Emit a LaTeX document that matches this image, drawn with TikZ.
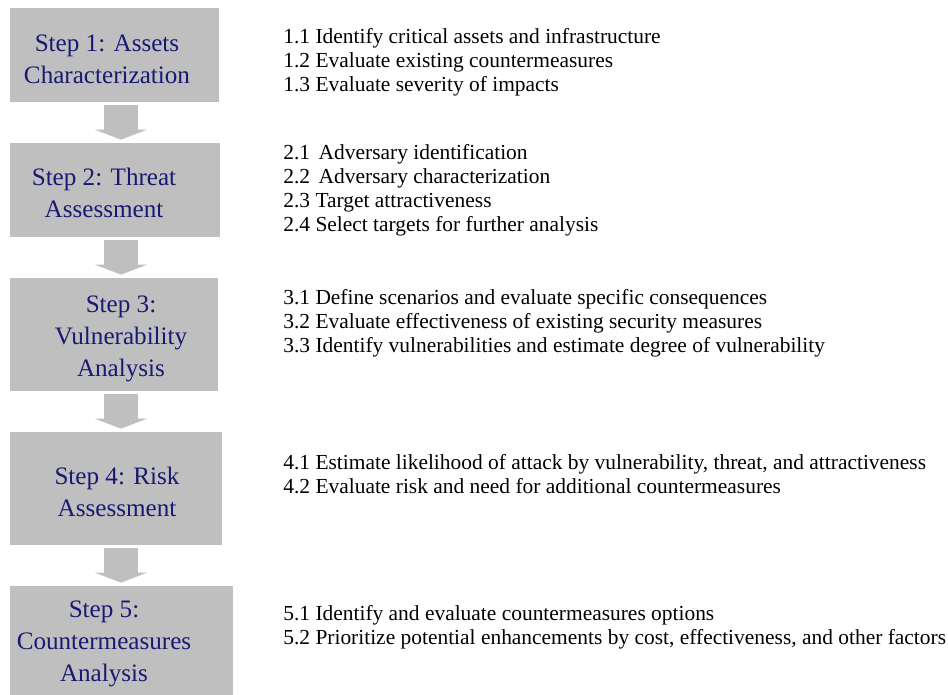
\documentclass[tikz,border=0pt]{standalone}
\usepackage{fontspec}
\setmainfont{Liberation Serif}
\usepackage{tikz}
\usetikzlibrary{arrows.meta}
\definecolor{boxgray}{RGB}{191,191,191}
\definecolor{stepblue}{RGB}{25,25,115}

\begin{document}
\begin{tikzpicture}[x = 0.02cm, y = -0.02cm,
        stepbox/.style = {fill = boxgray, inner sep = 0pt},
        steptext/.style = {text = stepblue, align = center, inner sep = 0pt,
            font = \fontsize{14.3}{18.1}\selectfont},
        tasks/.style = {anchor = west, align = left, inner sep = 0pt,
            font = \fontsize{12.2}{13.6}\selectfont},
        flow/.style = {boxgray, line width = 0.68cm,
            -{Triangle[width = 1.04cm, length = 0.2cm]},
            shorten < = 0.06cm, shorten > = 0.06cm}]
        \useasboundingbox (0, 0) rectangle (948, 695);
        % steps on the left
        \node [stepbox, minimum width = 4.18cm, minimum height = 1.88cm] (s1) at (114.5, 55) {};
        \node [stepbox, minimum width = 4.2cm, minimum height = 1.88cm] (s2) at (115, 190) {};
        \node [stepbox, minimum width = 4.16cm, minimum height = 2.26cm] (s3) at (114, 334.5) {};
        \node [stepbox, minimum width = 4.24cm, minimum height = 2.26cm] (s4) at (116, 488.5) {};
        \node [stepbox, minimum width = 4.46cm, minimum height = 2.18cm] (s5) at (121.5, 640.5) {};
        \node [steptext] (s1 text) at (107, 59) {Step 1: Assets\\Characterization};
        \node [steptext] (s2 text) at (104, 193) {Step 2: Threat\\Assessment};
        \node [steptext] (s3 text) at (121, 339) {Step 3:\\Vulnerability\\Analysis};
        \node [steptext] (s4 text) at (117, 492) {Step 4: Risk\\Assessment};
        \node [steptext] (s5 text) at (104, 644) {Step 5:\\Countermeasures\\Analysis};
        \coordinate (axis) at (121, 0);
        \draw [flow] (s1.south -| axis) -- (s2.north -| axis);
        \draw [flow] (s2.south -| axis) -- (s3.north -| axis);
        \draw [flow] (s3.south -| axis) -- (s4.north -| axis);
        \draw [flow] (s4.south -| axis) -- (s5.north -| axis);
        % sub-steps on the right
        \node [tasks] (t1) at (283, 62) {1.1 Identify critical assets and infrastructure\\
            1.2 Evaluate existing countermeasures\\
            1.3 Evaluate severity of impacts};
        \node [tasks] (t2) at (283, 190) {2.1\hspace{0.15em} Adversary identification\\
            2.2\hspace{0.15em} Adversary characterization\\
            2.3 Target attractiveness\\
            2.4 Select targets for further analysis};
        \node [tasks] (t3) at (283, 323) {3.1 Define scenarios and evaluate specific consequences\\
            3.2 Evaluate effectiveness of existing security measures\\
            3.3 Identify vulnerabilities and estimate degree of vulnerability};
        \node [tasks] (t4) at (283, 474) {4.1 Estimate likelihood of attack by vulnerability, threat, and attractiveness\\
            4.2 Evaluate risk and need for additional countermeasures};
        \node [tasks] (t5) at (283, 627) {5.1 Identify and evaluate countermeasures options\\
            5.2 Prioritize potential enhancements by cost, effectiveness, and other factors};
    \end{tikzpicture}
\end{document}
